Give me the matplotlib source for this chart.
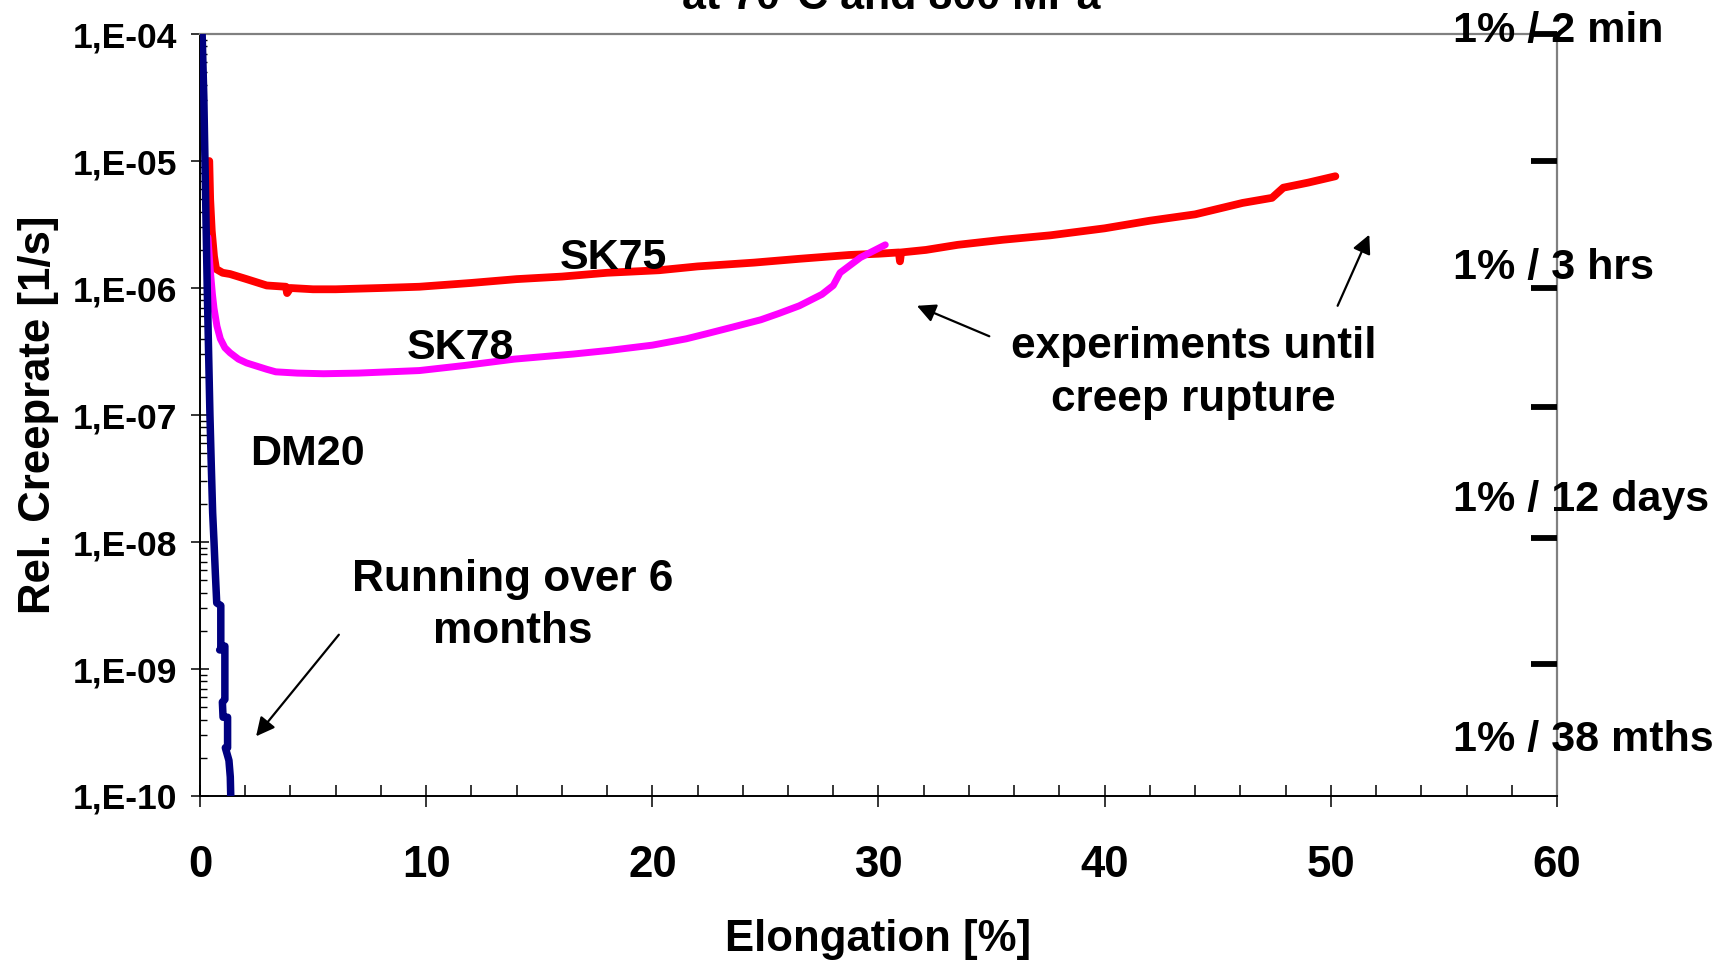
import numpy as np
import matplotlib
matplotlib.use("Agg")
import matplotlib.pyplot as plt
from matplotlib.ticker import FixedLocator, MultipleLocator, LogLocator, NullLocator, FuncFormatter

plt.rcParams['font.family'] = ['Liberation Sans', 'DejaVu Sans']
plt.rcParams['font.weight'] = 'bold'

# SK75 (red) - elongation [%] and log10 of rel. creep rate
sk75_x = [0.41, 0.45, 0.52, 0.62, 0.71, 1.0, 1.33, 2.06, 2.95, 3.8, 3.85, 4.0, 5.0, 6.0,
          8.0, 9.7, 12.0, 14.0, 16.0, 18.0, 20.3, 22.0, 24.5, 26.5, 28.7, 30.0, 30.9,
          30.95, 31.0, 32.1, 33.5, 35.5, 37.6, 40.0, 42.0, 44.0, 46.1, 47.4, 47.9, 49.0, 50.2]
sk75_log = [-5.0, -5.3, -5.55, -5.75, -5.85, -5.88, -5.89, -5.93, -5.98, -5.99, -6.04, -6.0, -6.01, -6.01,
            -6.0, -5.99, -5.96, -5.93, -5.91, -5.88, -5.86, -5.83, -5.80, -5.77, -5.74, -5.73, -5.72,
            -5.79, -5.72, -5.70, -5.66, -5.62, -5.585, -5.53, -5.47, -5.42, -5.33, -5.29, -5.21, -5.17, -5.12]

# SK78 (magenta)
sk78_x = [0.35, 0.45, 0.55, 0.62, 0.75, 0.9, 1.1, 1.33, 1.7, 2.06, 2.95, 3.35, 4.3, 5.46, 7.0,
          9.7, 11.7, 13.9, 16.5, 18.15, 20.0, 21.5, 22.4, 23.5, 24.8, 25.6, 26.5, 27.5, 28.0,
          28.3, 29.2, 30.3]
sk78_log = [-5.6, -5.85, -6.05, -6.16, -6.3, -6.4, -6.47, -6.51, -6.56, -6.59, -6.64, -6.66, -6.67, -6.675, -6.67,
            -6.65, -6.61, -6.56, -6.52, -6.49, -6.45, -6.40, -6.36, -6.31, -6.25, -6.20, -6.14, -6.05, -5.98,
            -5.88, -5.76, -5.66]

# DM20 (navy)
dm20_x = [0.08, 0.17, 0.22, 0.27, 0.32, 0.38, 0.44, 0.50, 0.56, 0.62, 0.68, 0.74, 0.92, 0.92, 0.87,
          1.10, 1.10, 0.99, 1.02, 1.22, 1.22, 1.12, 1.28, 1.34, 1.36]
dm20_log = [-3.9, -4.5, -5.0, -5.5, -6.0, -6.5, -7.0, -7.4, -7.77, -8.0, -8.25, -8.48, -8.50, -8.85, -8.85,
            -8.82, -9.24, -9.26, -9.38, -9.38, -9.62, -9.62, -9.72, -9.85, -10.0]

# right-hand reference marks
right_ticks_log = [-4.0, -5.0, -6.0, -6.94, -7.97, -8.96]
right_labels = ['1% / 2 min', '1% / 3 hrs', '1% / 12 days', '1% / 38 mths']
right_labels_log = [-3.98, -5.84, -7.67, -9.56]

fig = plt.figure(figsize=(17.3, 9.61), dpi=100)
ax = fig.add_axes([0.1156, 0.1717, 0.9000 - 0.1156, 0.9646 - 0.1717])

ax.plot(sk75_x, 10.0 ** np.array(sk75_log), color='#ff0000', lw=5.6, solid_capstyle='round',
        solid_joinstyle='round', zorder=3)
ax.plot(sk78_x, 10.0 ** np.array(sk78_log), color='#ff00ff', lw=5.0, solid_capstyle='round',
        solid_joinstyle='round', zorder=4)
ax.plot(dm20_x, 10.0 ** np.array(dm20_log), color='#000080', lw=5.4, solid_capstyle='round',
        solid_joinstyle='round', zorder=5)

ax.set_yscale('log')
ax.set_xlim(0, 60)
ax.set_ylim(1e-10, 1e-4)

ax.xaxis.set_major_locator(MultipleLocator(10))
ax.xaxis.set_minor_locator(MultipleLocator(2))
ax.yaxis.set_major_locator(LogLocator(base=10, numticks=20))
ax.yaxis.set_minor_locator(LogLocator(base=10, subs=np.arange(2, 10), numticks=20))
ax.yaxis.set_major_formatter(FuncFormatter(lambda v, p: '1,E%03d' % int(round(np.log10(v))) if v > 0 else ''))

ax.tick_params(axis='x', which='major', direction='inout', length=16, width=1.1, pad=27, labelsize=31.5)
ax.tick_params(axis='x', which='minor', direction='in', length=8, width=1.1)
ax.tick_params(axis='y', which='major', direction='inout', length=13, width=1.1, pad=10, labelsize=25.5)
ax.tick_params(axis='y', which='minor', direction='in', length=5, width=1.0)

for s in ['top', 'right']:
    ax.spines[s].set_color('#808080')
    ax.spines[s].set_linewidth(1.6)
for s in ['left', 'bottom']:
    ax.spines[s].set_color('black')
    ax.spines[s].set_linewidth(1.4)

ax.set_xlabel('Elongation [%]', fontsize=31.5, fontweight='bold', labelpad=24)
ax.set_ylabel('Rel. Creeprate [1/s]', fontsize=31.5, fontweight='bold', labelpad=10)

# right reference marks
ax2 = ax.twinx()
ax2.set_yscale('log')
ax2.set_ylim(1e-10, 1e-4)
ax2.yaxis.set_major_locator(FixedLocator([10.0 ** v for v in right_ticks_log]))
ax2.yaxis.set_minor_locator(NullLocator())
ax2.tick_params(axis='y', which='major', direction='in', length=18.5, width=4.2, color='black',
                labelright=False, labelleft=False)
for s in ax2.spines.values():
    s.set_visible(False)

for lab, lv in zip(right_labels, right_labels_log):
    ax.text(55.4, 10.0 ** lv, lab, fontsize=31, fontweight='bold', ha='left', va='center',
            clip_on=False, zorder=6)

# curve labels
ax.text(18.26, 10 ** -5.76, 'SK75', fontsize=31, fontweight='bold', ha='center', va='center', zorder=6)
ax.text(11.54, 10 ** -6.47, 'SK78', fontsize=31, fontweight='bold', ha='center', va='center', zorder=6)
ax.text(4.73, 10 ** -7.31, 'DM20', fontsize=31, fontweight='bold', ha='center', va='center', zorder=6)
ax.text(13.84, 10 ** -8.50, 'Running over 6\nmonths', fontsize=31.8, fontweight='bold',
        ha='center', va='center', linespacing=1.36, zorder=6)
ax.text(43.94, 10 ** -6.67, 'experiments until\ncreep rupture', fontsize=31.8, fontweight='bold',
        ha='center', va='center', linespacing=1.36, zorder=6)

arrow = dict(arrowstyle='-|>', color='black', lw=1.6, mutation_scale=28, shrinkA=0, shrinkB=0)
ax.annotate('', xy=(2.48, 10 ** -9.53), xytext=(6.14, 10 ** -8.73), arrowprops=arrow)
ax.annotate('', xy=(31.7, 10 ** -6.14), xytext=(34.9, 10 ** -6.38), arrowprops=arrow)
ax.annotate('', xy=(51.7, 10 ** -5.58), xytext=(50.3, 10 ** -6.14), arrowprops=arrow)

# second title line (first line falls outside the picture)
fig.text(891 / 1730, 1 - 9 / 961, 'at 70°C and 800 MPa', fontsize=31, fontweight='bold',
         ha='center', va='baseline')

fig.savefig('out.png', dpi=100)
